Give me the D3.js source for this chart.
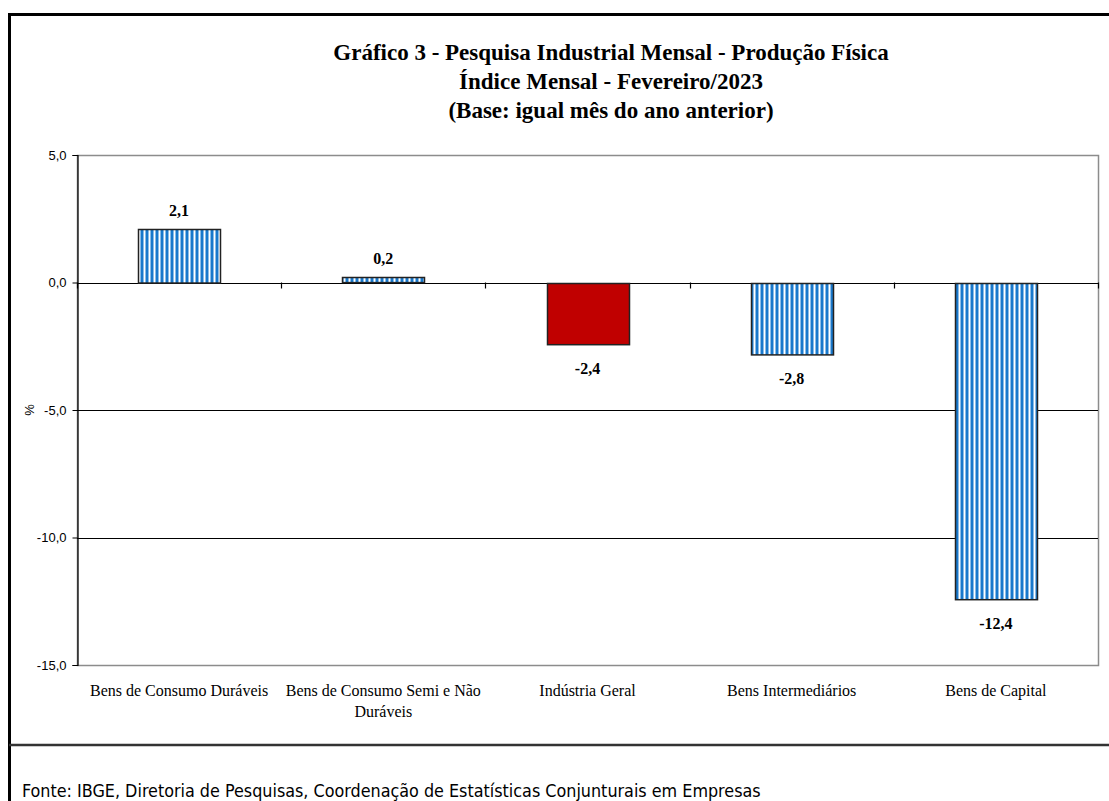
<!DOCTYPE html>
<html>
<head>
<meta charset="utf-8">
<script src="https://cdn.jsdelivr.net/npm/d3@7"></script>
<style>
  body { margin: 0; background: #fff; }
  svg { display: block; }
</style>
</head>
<body>
<div id="chart"></div>
<script>
const categories = [
    ['Bens de Consumo Duráveis'],
    ['Bens de Consumo Semi e Não', 'Duráveis'],
    ['Indústria Geral'],
    ['Bens Intermediários'],
    ['Bens de Capital']
];
const values = [2.1, 0.2, -2.4, -2.8, -12.4];
const highlighted = [false, false, true, false, false];
const yTicks = [5, 0, -5, -10, -15];
const titleLines = [
    'Gráfico 3 - Pesquisa Industrial Mensal - Produção Física',
    'Índice Mensal - Fevereiro/2023',
    '(Base: igual mês do ano anterior)'
];
const sourceText = 'Fonte: IBGE, Diretoria de Pesquisas, Coordenação de Estatísticas Conjunturais em Empresas';

(function drawChart() {
    const width = 1109, height = 801;
    const plot = { left: 77, right: 1098, top: 155, bottom: 665 };
    const serif = "'Liberation Serif', 'DejaVu Serif', serif";
    const sans = "'Liberation Sans', Arial, sans-serif";

    const svg = d3.select('#chart').append('svg')
        .attr('width', width)
        .attr('height', height);

    const keys = categories.map(c => c.join(' '));

    const x = d3.scaleBand()
        .domain(keys)
        .range([plot.left, plot.right])
        .paddingInner(0.6)
        .paddingOuter(0.3);

    const y = d3.scaleLinear()
        .domain([-15, 5])
        .range([plot.bottom, plot.top]);

    const defs = svg.append('defs');
    const pattern = defs.append('pattern')
        .attr('id', 'stripes')
        .attr('patternUnits', 'userSpaceOnUse')
        .attr('x', 0.5)
        .attr('width', 5)
        .attr('height', 10);
    pattern.append('rect').attr('width', 5).attr('height', 10).attr('fill', '#fff');
    pattern.append('rect').attr('width', 3).attr('height', 10).attr('fill', '#1878cc');

    // outer frame
    svg.append('rect')
        .attr('x', 9.5).attr('y', 14.5)
        .attr('width', 1110).attr('height', 800)
        .attr('fill', 'none')
        .attr('stroke', '#000')
        .attr('stroke-width', 3);

    svg.append('line')
        .attr('x1', 9).attr('x2', width)
        .attr('y1', 745).attr('y2', 745)
        .attr('stroke', '#333')
        .attr('stroke-width', 2.5);

    // title
    svg.append('text')
        .attr('x', 611)
        .attr('y', 60)
        .attr('text-anchor', 'middle')
        .style('font-family', serif)
        .style('font-weight', 'bold')
        .style('font-size', '23px')
        .selectAll('tspan')
        .data(titleLines)
        .enter()
        .append('tspan')
        .attr('x', 611)
        .attr('dy', (d, i) => i === 0 ? 0 : 29)
        .text(d => d);

    // plot frame (gray)
    svg.append('rect')
        .attr('x', plot.left + 0.5).attr('y', y(5) + 0.5)
        .attr('width', plot.right - plot.left).attr('height', y(-15) - y(5))
        .attr('fill', 'none')
        .attr('stroke', '#8c8c8c')
        .attr('stroke-width', 1.5);

    // gridlines
    svg.append('g')
        .selectAll('line')
        .data(yTicks.filter(t => t < 5 && t > -15))
        .enter()
        .append('line')
        .attr('x1', plot.left).attr('x2', plot.right)
        .attr('y1', d => Math.round(y(d)) + 0.5).attr('y2', d => Math.round(y(d)) + 0.5)
        .attr('stroke', '#000')
        .attr('stroke-width', 1.2);

    // y axis
    const yAxis = svg.append('g')
        .attr('transform', `translate(${plot.left + 0.5},0)`)
        .call(d3.axisLeft(y).tickValues(yTicks).tickSize(5).tickPadding(6)
            .tickFormat(d => d3.format('.1f')(d).replace('.', ',').replace('−', '-')));
    yAxis.select('.domain').attr('stroke', '#000').attr('stroke-width', 1.2);
    yAxis.selectAll('.tick line').attr('stroke', '#000');
    yAxis.selectAll('text')
        .style('font-family', sans)
        .style('font-size', '13px')
        .attr('fill', '#000');

    svg.append('text')
        .attr('transform', `translate(34,${y(-5)}) rotate(-90)`)
        .attr('text-anchor', 'middle')
        .style('font-family', sans)
        .style('font-size', '13px')
        .text('%');

    // category ticks on zero line
    const boundaries = keys.map(k => x(k) - (x.step() - x.bandwidth()) / 2).concat([plot.right]);
    svg.append('g')
        .selectAll('line')
        .data(boundaries)
        .enter()
        .append('line')
        .attr('x1', d => Math.round(d) + 0.5).attr('x2', d => Math.round(d) + 0.5)
        .attr('y1', y(0)).attr('y2', y(0) + 6)
        .attr('stroke', '#000')
        .attr('stroke-width', 1.2);

    // bars
    svg.append('g')
        .selectAll('rect')
        .data(values)
        .enter()
        .append('rect')
        .attr('x', (d, i) => Math.round(x(keys[i])) + 0.5)
        .attr('y', d => Math.round(y(Math.max(0, d))) + 0.5)
        .attr('width', Math.round(x.bandwidth()))
        .attr('height', d => Math.abs(y(d) - y(0)))
        .attr('fill', (d, i) => highlighted[i] ? '#c00000' : 'url(#stripes)')
        .attr('stroke', '#222')
        .attr('stroke-width', 1.5);

    // value labels
    svg.append('g')
        .selectAll('text')
        .data(values)
        .enter()
        .append('text')
        .attr('x', (d, i) => x(keys[i]) + x.bandwidth() / 2)
        .attr('y', d => d >= 0 ? y(d) - 13 : y(d) + 30)
        .attr('text-anchor', 'middle')
        .style('font-family', serif)
        .style('font-weight', 'bold')
        .style('font-size', '16px')
        .text(d => d3.format('.1f')(d).replace('.', ',').replace('−', '-'));

    // category labels
    const catLabels = svg.append('g')
        .selectAll('text')
        .data(categories)
        .enter()
        .append('text')
        .attr('x', (d, i) => x(keys[i]) + x.bandwidth() / 2)
        .attr('y', 696)
        .attr('text-anchor', 'middle')
        .style('font-family', serif)
        .style('font-size', '16px');
    catLabels.selectAll('tspan')
        .data((d, i) => d.map(line => ({ line, i })))
        .enter()
        .append('tspan')
        .attr('x', d => x(keys[d.i]) + x.bandwidth() / 2)
        .attr('dy', (d, j) => j === 0 ? 0 : 21)
        .text(d => d.line);

    // source
    svg.append('text')
        .attr('x', 22)
        .attr('y', 797)
        .style('font-family', "'DejaVu Sans Condensed', sans-serif")
        .style('font-size', '17.8px')
        .text(sourceText);
})();
</script>
</body>
</html>
